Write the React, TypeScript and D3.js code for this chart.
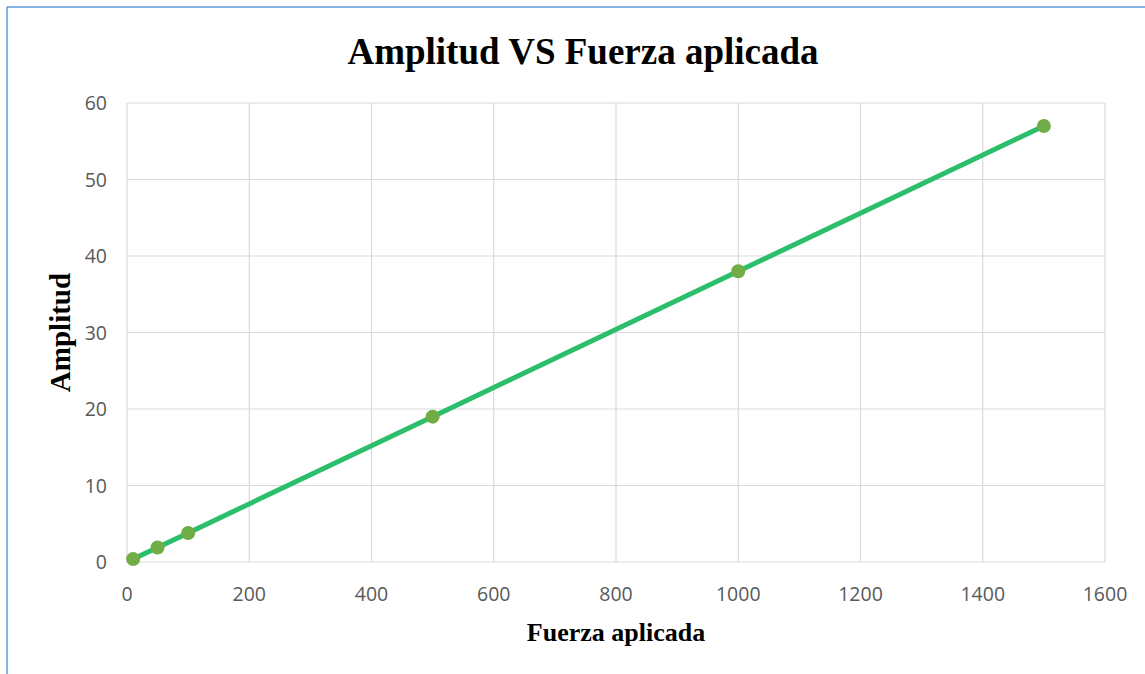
import React from "react";
import * as d3 from "d3";

const fuerza = [10, 50, 100, 500, 1000, 1500];
const amplitud = [0.38, 1.9, 3.8, 19, 38, 57];
const xTicks = [0, 200, 400, 600, 800, 1000, 1200, 1400, 1600];
const yTicks = [0, 10, 20, 30, 40, 50, 60];

const W = 1145;
const H = 674;
const margin = { left: 127, right: 40, top: 103, bottom: 112 };

export default function App() {
  const x = d3.scaleLinear().domain([0, 1600]).range([margin.left, W - margin.right]);
  const y = d3.scaleLinear().domain([0, 60]).range([H - margin.bottom, margin.top]);

  const points = fuerza.map((f, i) => ({ x: f, y: amplitud[i] }));
  const line = d3
    .line<{ x: number; y: number }>()
    .x((d) => x(d.x))
    .y((d) => y(d.y));

  const tickFont = "'Open Sans', 'Noto Sans', sans-serif";
  const serif = "'Liberation Serif', 'DejaVu Serif', serif";

  return (
    <svg
      width={W}
      height={H}
      style={{ position: "absolute", left: 0, top: 0, background: "#fff" }}
    >
      <rect x={0} y={0} width={W} height={H} fill="#fff" />
      {/* chart border, only top and left visible */}
      <line x1={7} y1={7} x2={W} y2={7} stroke="#5B9BD5" strokeWidth={1.5} />
      <line x1={7} y1={7} x2={7} y2={H} stroke="#5B9BD5" strokeWidth={1.5} />

      {/* grid */}
      {xTicks.map((t) => (
        <line
          key={"gx" + t}
          x1={x(t)}
          x2={x(t)}
          y1={y(0)}
          y2={y(60)}
          stroke="#D9D9D9"
          strokeWidth={1.2}
        />
      ))}
      {yTicks.map((t) => (
        <line
          key={"gy" + t}
          x1={x(0)}
          x2={x(1600)}
          y1={y(t)}
          y2={y(t)}
          stroke="#D9D9D9"
          strokeWidth={1.2}
        />
      ))}

      {/* tick labels */}
      {xTicks.map((t) => (
        <text
          key={"tx" + t}
          x={x(t)}
          y={y(0) + 39}
          textAnchor="middle"
          fontFamily={tickFont}
          fontSize={19.5}
          fill="#595959"
        >
          {t}
        </text>
      ))}
      {yTicks.map((t) => (
        <text
          key={"ty" + t}
          x={x(0) - 20}
          y={y(t) + 7}
          textAnchor="end"
          fontFamily={tickFont}
          fontSize={19.5}
          fill="#595959"
        >
          {t}
        </text>
      ))}

      {/* series */}
      <path
        d={line(points) || ""}
        fill="none"
        stroke="#2BBE6B"
        strokeWidth={5}
        strokeLinecap="round"
      />
      {points.map((p, i) => (
        <circle key={i} cx={x(p.x)} cy={y(p.y)} r={7} fill="#70AD47" />
      ))}

      {/* titles */}
      <text
        x={583}
        y={64}
        textAnchor="middle"
        fontFamily={serif}
        fontWeight="bold"
        fontSize={37}
        fill="#000"
      >
        Amplitud VS Fuerza aplicada
      </text>
      <text
        x={616}
        y={641}
        textAnchor="middle"
        fontFamily={serif}
        fontWeight="bold"
        fontSize={26}
        fill="#000"
      >
        Fuerza aplicada
      </text>
      <text
        transform={`translate(70, ${y(30)}) rotate(-90)`}
        textAnchor="middle"
        fontFamily={serif}
        fontWeight="bold"
        fontSize={29}
        fill="#000"
      >
        Amplitud
      </text>
    </svg>
  );
}
